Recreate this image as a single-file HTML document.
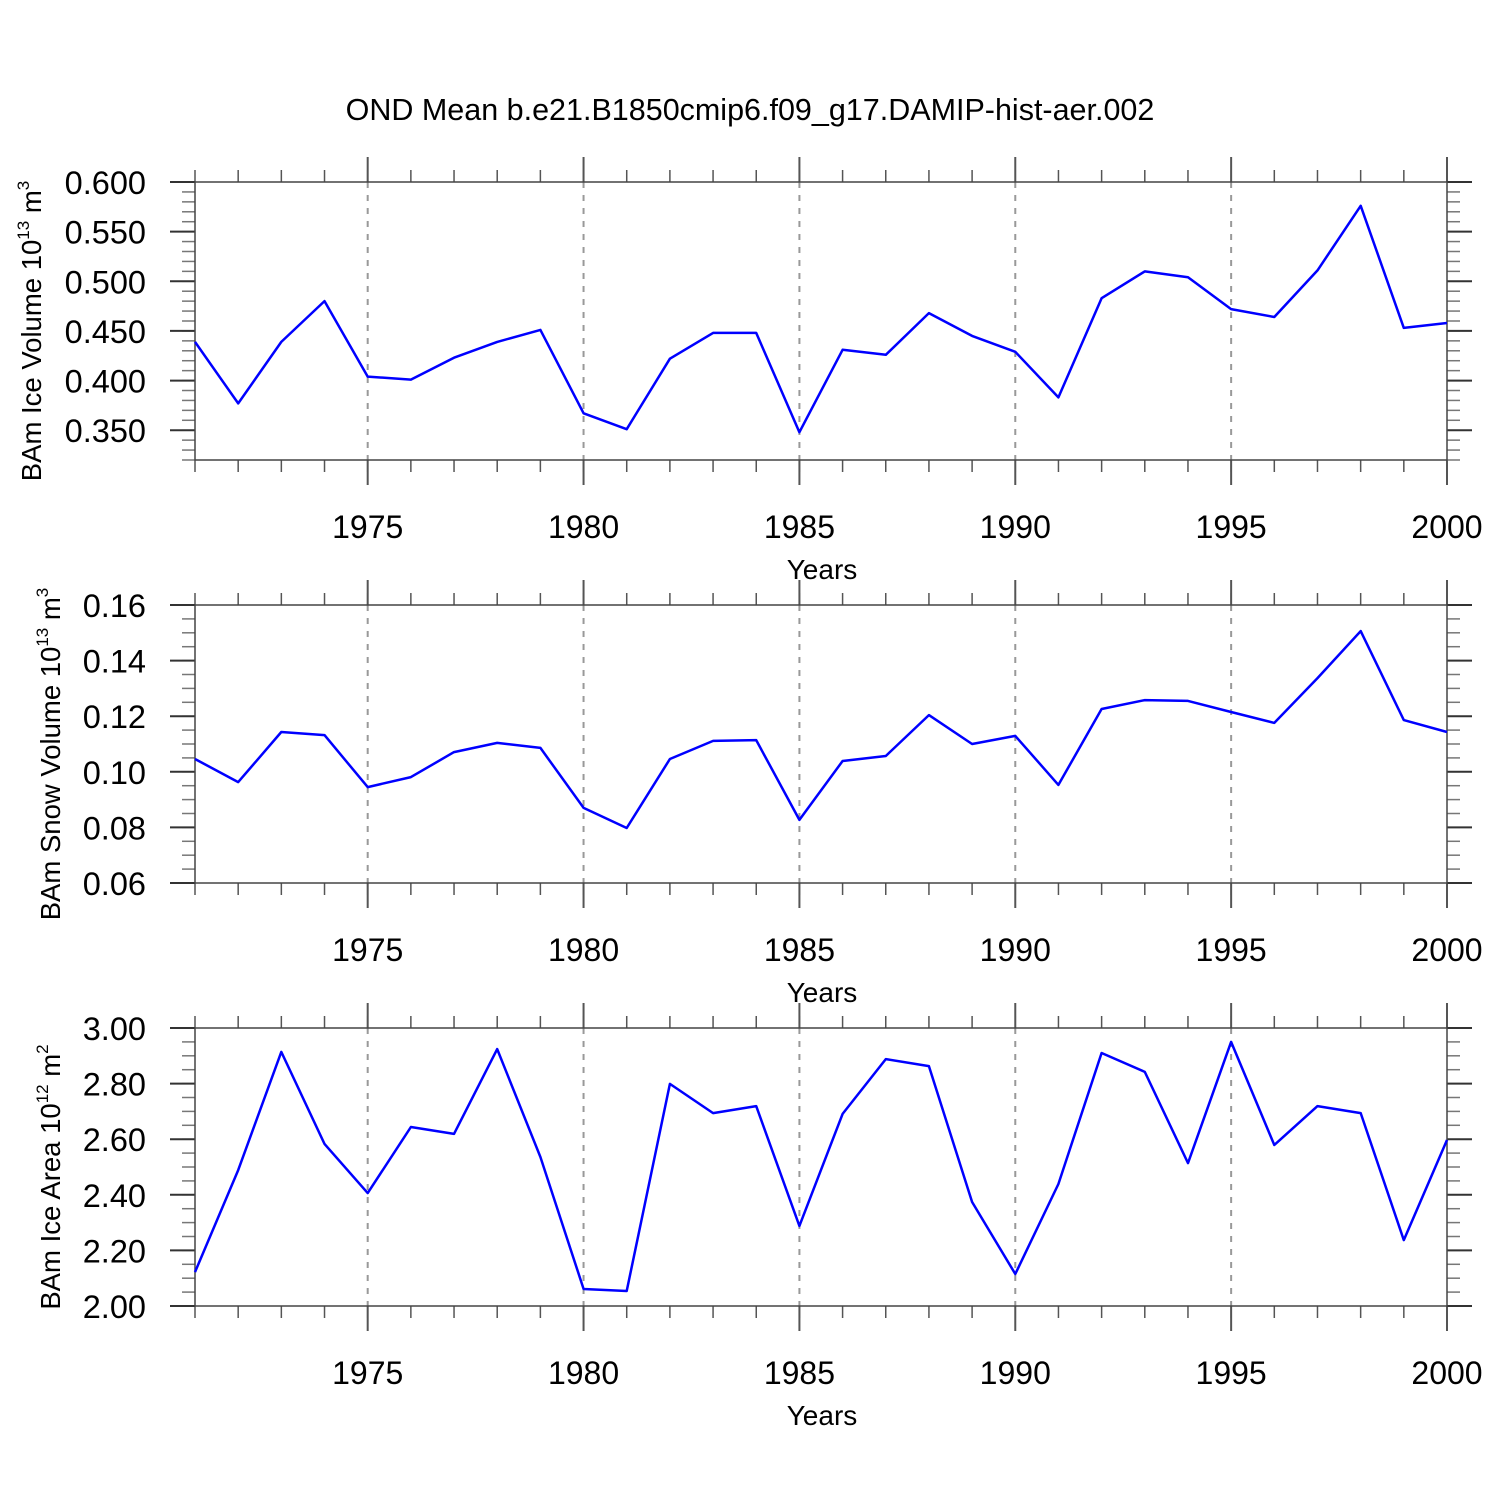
<!DOCTYPE html>
<html><head><meta charset="utf-8"><style>
body{margin:0;background:#fff}
svg text{font-family:"Liberation Sans",Helvetica,sans-serif;fill:#000}
</style></head><body>
<svg id="chart" width="1500" height="1500" viewBox="0 0 1500 1500" xmlns="http://www.w3.org/2000/svg">
<text x="750" y="120" font-size="30.5" text-anchor="middle">OND Mean b.e21.B1850cmip6.f09_g17.DAMIP-hist-aer.002</text>
</svg>
<script>
const years = [1971,1972,1973,1974,1975,1976,1977,1978,1979,1980,1981,1982,1983,1984,1985,1986,1987,1988,1989,1990,1991,1992,1993,1994,1995,1996,1997,1998,1999,2000];
const iceVolume = [0.439,0.377,0.439,0.480,0.404,0.401,0.423,0.439,0.451,0.367,0.351,0.422,0.448,0.448,0.348,0.431,0.426,0.468,0.445,0.429,0.383,0.483,0.510,0.504,0.472,0.464,0.511,0.576,0.453,0.458];
const snowVolume = [0.1046,0.0963,0.1143,0.1132,0.0945,0.0981,0.1071,0.1104,0.1086,0.0870,0.0798,0.1046,0.1111,0.1114,0.0827,0.1039,0.1057,0.1204,0.1100,0.1129,0.0953,0.1226,0.1258,0.1255,0.1215,0.1176,0.1337,0.1506,0.1186,0.1143];
const iceArea = [2.122,2.489,2.914,2.583,2.406,2.644,2.619,2.924,2.536,2.061,2.054,2.799,2.694,2.719,2.288,2.691,2.888,2.863,2.374,2.115,2.439,2.910,2.842,2.514,2.950,2.579,2.719,2.694,2.237,2.597];
const xTickLabels = [1975,1980,1985,1990,1995,2000];
const iceVolTicks = [0.35,0.40,0.45,0.50,0.55,0.60];
const snowTicks = [0.06,0.08,0.10,0.12,0.14,0.16];
const areaTicks = [2.0,2.2,2.4,2.6,2.8,3.0];

const NS='http://www.w3.org/2000/svg';
const svg=document.getElementById('chart');
function mk(tag,attrs,parent){const e=document.createElementNS(NS,tag);for(const k in attrs)e.setAttribute(k,attrs[k]);(parent||svg).appendChild(e);return e;}
const X0=195,X1=1447,xmin=1971,xmax=2000;
function xs(v){return X0+(v-xmin)/(xmax-xmin)*(X1-X0);}

const panels=[
 {name:'ice-volume',data:iceVolume,ticks:iceVolTicks,ymin:0.32,ymax:0.60,minor:0.01,top:182,dec:3,title:'BAm Ice Volume 10',sup:'13',unit:' m',usup:'3',tx:41},
 {name:'snow-volume',data:snowVolume,ticks:snowTicks,ymin:0.06,ymax:0.16,minor:0.005,top:605,dec:2,title:'BAm Snow Volume 10',sup:'13',unit:' m',usup:'3',tx:60},
 {name:'ice-area',data:iceArea,ticks:areaTicks,ymin:2.0,ymax:3.0,minor:0.05,top:1028,dec:2,title:'BAm Ice Area 10',sup:'12',unit:' m',usup:'2',tx:60}
];
panels.forEach(p=>{
 const T=p.top,B=T+278;
 const ys=v=>B-(v-p.ymin)/(p.ymax-p.ymin)*(B-T);
 const g=mk('g',{});
 
 
 xTickLabels.forEach(yr=>{ if(yr<xmax){const l=mk('line',{x1:xs(yr),x2:xs(yr),y1:T,y2:B,stroke:'#999','stroke-width':2,'stroke-dasharray':'6,7'},g);
  
  }});
 years.forEach(yr=>{const x=xs(yr);
  mk('line',{x1:x,x2:x,y1:T-12,y2:T,stroke:'#555','stroke-width':1.5},g);
  mk('line',{x1:x,x2:x,y1:B,y2:B+12,stroke:'#555','stroke-width':1.5},g);});
 xTickLabels.forEach(yr=>{const x=xs(yr);
  mk('line',{x1:x,x2:x,y1:T-25,y2:T,stroke:'#555','stroke-width':2},g);
  mk('line',{x1:x,x2:x,y1:B,y2:B+25,stroke:'#555','stroke-width':2},g);
  const t=mk('text',{x:x,y:B+78,'font-size':32,'text-anchor':'middle'},g);t.textContent=yr;
  
  });
 const n=Math.round((p.ymax-p.ymin)/p.minor);
 for(let i=0;i<=n;i++){const y=ys(p.ymin+i*p.minor);
  mk('line',{x1:X0-13,x2:X0,y1:y,y2:y,stroke:'#777','stroke-width':1.5},g);
  mk('line',{x1:X1,x2:X1+13,y1:y,y2:y,stroke:'#777','stroke-width':1.5},g);}
 p.ticks.forEach(v=>{const y=ys(v);
  mk('line',{x1:X0-25,x2:X0,y1:y,y2:y,stroke:'#333','stroke-width':2},g);
  mk('line',{x1:X1,x2:X1+25,y1:y,y2:y,stroke:'#333','stroke-width':2},g);
  const t=mk('text',{x:146,y:y+12,'font-size':32.5,'text-anchor':'end'},g);t.textContent=v.toFixed(p.dec);
  
  });
 const r=mk('rect',{x:X0,y:T,width:X1-X0,height:B-T,fill:'none',stroke:'#444','stroke-width':1.5},g);
 
 
 const pts=p.data.map((v,i)=>xs(years[i]).toFixed(1)+','+ys(v).toFixed(1)).join(' ');
 const pl=mk('polyline',{points:pts,fill:'none',stroke:'#0000ff','stroke-width':2.5,'stroke-linejoin':'round'},g);
 
 
 const xt=mk('text',{x:822,y:B+119,'font-size':28,'text-anchor':'middle'},g);xt.textContent='Years';
 
 
 const cy=(T+B)/2+10;
 const yt=mk('text',{x:0,y:0,'font-size':27.5,'text-anchor':'middle',transform:`translate(${p.tx},${cy}) rotate(-90)`},g);
 
 
 const a=mk('tspan',{},yt);a.textContent=p.title;
 const b=mk('tspan',{'font-size':17,dy:-12},yt);b.textContent=p.sup;
 const c=mk('tspan',{dy:12},yt);c.textContent=p.unit;
 const d=mk('tspan',{'font-size':17,dy:-12},yt);d.textContent=p.usup;
});
</script>
</body></html>
